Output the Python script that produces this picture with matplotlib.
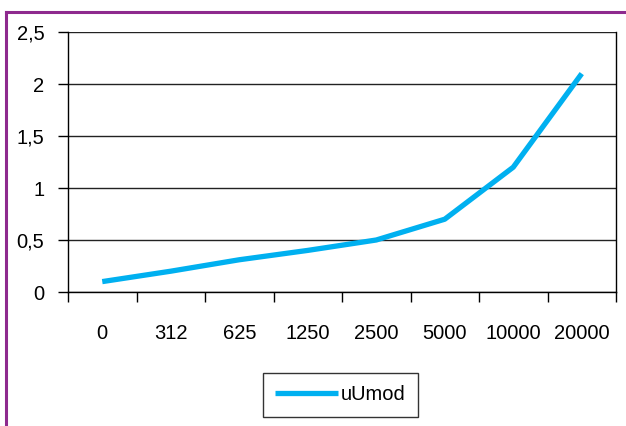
import matplotlib
matplotlib.use("Agg")
import matplotlib.pyplot as plt
from matplotlib.lines import Line2D
from matplotlib.ticker import FuncFormatter, FixedLocator

# data
categories = ["0", "312", "625", "1250", "2500", "5000", "10000", "20000"]
uUmod = [0.1, 0.2, 0.31, 0.4, 0.5, 0.7, 1.2, 2.1]

plt.rcParams['font.family'] = ['Liberation Sans', 'DejaVu Sans']

W, H = 626, 426
fig = plt.figure(figsize=(W / 100, H / 100), dpi=100)
ax = fig.add_axes([68 / W, 1 - 292 / H, 548 / W, 260 / H])

x = list(range(len(categories)))
ax.plot(x, uUmod, color='#00b0f0', linewidth=3.8, solid_capstyle='butt',
        label='uUmod', zorder=3)

ax.set_xlim(-0.5, len(categories) - 0.5)
ax.set_ylim(0, 2.5)
ax.set_yticks([0, 0.5, 1, 1.5, 2, 2.5])
ax.yaxis.set_major_formatter(FuncFormatter(lambda v, p: f"{v:g}".replace('.', ',')))
ax.grid(axis='y', color='#222222', linewidth=1)
ax.set_axisbelow(True)

# category labels centered, ticks on category boundaries
ax.set_xticks(x)
ax.set_xticklabels(categories)
ax.tick_params(axis='x', which='major', length=0, pad=23, labelsize=14.5)
ax.xaxis.set_minor_locator(FixedLocator([i - 0.5 for i in range(len(categories) + 1)]))
ax.tick_params(axis='x', which='minor', length=7, width=1, direction='out', color='black')
ax.tick_params(axis='y', length=7, width=1, direction='out', pad=10, labelsize=14.5)

for s in ['left', 'bottom', 'right']:
    ax.spines[s].set_color('black')
    ax.spines[s].set_linewidth(1)
ax.spines['top'].set_visible(False)

leg = ax.legend(loc='center', bbox_to_anchor=(340.5 / W, 1 - 395 / H),
                bbox_transform=fig.transFigure, fontsize=14.5, frameon=True,
                fancybox=False, handlelength=3.1, handletextpad=0.15,
                borderpad=0.6, borderaxespad=0)
leg.get_frame().set_edgecolor('black')
leg.get_frame().set_linewidth(1)

# purple frame (top and left edges)
fig.add_artist(Line2D([6 / W, 6 / W], [0, 1 - 12 / H], transform=fig.transFigure,
                      color='#8e2a8e', linewidth=2.2))
fig.add_artist(Line2D([6 / W, 1], [1 - 12 / H, 1 - 12 / H], transform=fig.transFigure,
                      color='#8e2a8e', linewidth=2.2))

fig.savefig('out.png', dpi=100)
